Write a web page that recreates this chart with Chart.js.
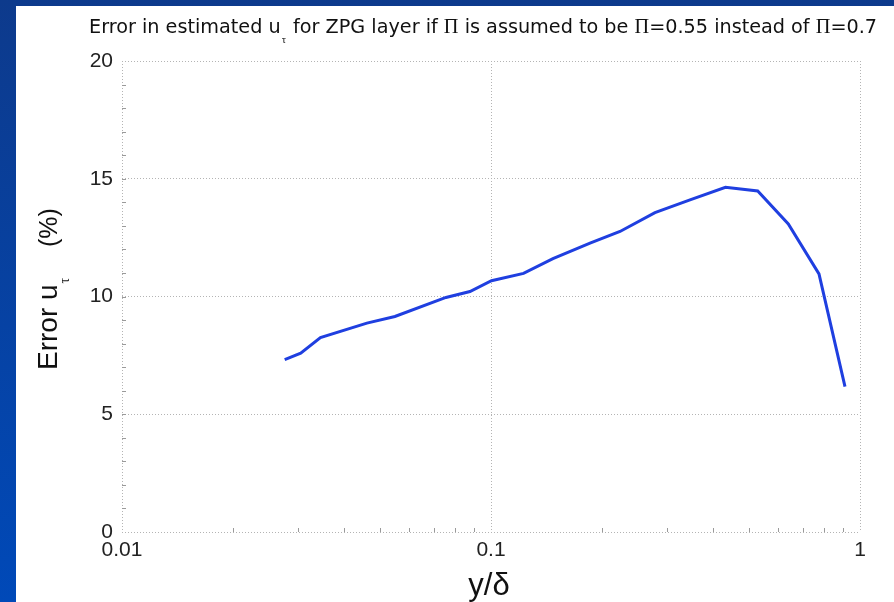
<!DOCTYPE html>
<html>
<head>
<meta charset="utf-8">
<title>Error in estimated u_tau</title>
<script src="https://cdn.jsdelivr.net/npm/chart.js@4.4.0/dist/chart.umd.min.js"></script>
<style>
  html, body { margin: 0; padding: 0; }
  body {
    width: 894px; height: 602px; overflow: hidden; position: relative;
    background: linear-gradient(to bottom, #0d3a8c, #0049b8);
  }
  #panel { position: absolute; left: 16px; top: 6px; width: 878px; height: 596px; background: #fff; }
</style>
</head>
<body>
<div id="panel"><canvas id="errChart" width="878" height="596"></canvas></div>
<script>
// y/delta positions and the matching error in u_tau (%)
const yOverDelta = [0.0276, 0.0305, 0.0345, 0.0461, 0.0549, 0.0755, 0.0877, 0.1003, 0.1225,
                    0.1472, 0.1855, 0.2237, 0.2782, 0.3462, 0.4319, 0.5282, 0.6393, 0.7742, 0.9106];
const errorUtau = [7.32, 7.59, 8.26, 8.87, 9.15, 9.96, 10.21, 10.67, 10.98,
                   11.61, 12.27, 12.76, 13.56, 14.10, 14.64, 14.48, 13.08, 10.96, 6.17];

const xTickValues = [0.01, 0.1, 1];
const xTickLabels = ['0.01', '0.1', '1'];
const yTickValues = [0, 5, 10, 15, 20];
const yMinorStep = 1;

const SANS = '"Liberation Sans", Arial, sans-serif';
const TITLE_SANS = '"DejaVu Sans", sans-serif';
const SERIF = '"Liberation Serif", "Times New Roman", serif';

// width of a run of text pieces at a given scale
function runWidth(ctx, parts, k) {
  let w = 0;
  parts.forEach(p => {
    ctx.font = (p.size * k) + 'px ' + p.font;
    w += ctx.measureText(p.text).width + (p.gap || 0);
  });
  return w;
}

// draws text pieces one after another, subscripts dropped below the baseline
function drawRun(ctx, parts, x, y, k) {
  let pos = x;
  k = k || 1;
  parts.forEach(p => {
    ctx.font = (p.size * k) + 'px ' + p.font;
    ctx.fillText(p.text, pos, y + (p.drop || 0));
    pos += ctx.measureText(p.text).width + (p.gap || 0);
  });
}

const labelsPlugin = {
  id: 'labels',
  afterDraw(chart) {
    const ctx = chart.ctx;
    const area = chart.chartArea;
    const xs = chart.scales.x, ys = chart.scales.y;
    ctx.save();

    // minor ticks inside the bottom and left axes
    ctx.strokeStyle = '#9a9a9a';
    ctx.lineWidth = 1;
    ctx.beginPath();
    for (let v = ys.min + yMinorStep; v < ys.max; v += yMinorStep) {
      const py = Math.round(ys.getPixelForValue(v)) + 0.5;
      ctx.moveTo(area.left, py);
      ctx.lineTo(area.left + 4, py);
    }
    for (let d = 0.01; d < 1; d *= 10) {
      for (let m = 2; m <= 9; m++) {
        const px = Math.round(xs.getPixelForValue(d * m)) + 0.5;
        ctx.moveTo(px, area.bottom);
        ctx.lineTo(px, area.bottom - 4);
      }
    }
    ctx.stroke();

    ctx.fillStyle = '#111';
    ctx.textAlign = 'left';
    ctx.textBaseline = 'alphabetic';

    // title, scaled so it runs from x=73 to x=862
    const title = [
      { text: 'Error in estimated u', font: TITLE_SANS, size: 18, gap: 1 },
      { text: '\u03c4', font: SERIF, size: 10, drop: 10, gap: 1 },
      { text: ' for ZPG layer if ', font: TITLE_SANS, size: 18 },
      { text: '\u03a0', font: SERIF, size: 19 },
      { text: ' is assumed to be ', font: TITLE_SANS, size: 18 },
      { text: '\u03a0', font: SERIF, size: 19 },
      { text: '=0.55 instead of ', font: TITLE_SANS, size: 18 },
      { text: '\u03a0', font: SERIF, size: 19 },
      { text: '=0.7', font: TITLE_SANS, size: 18 }
    ];
    const k = 789 / runWidth(ctx, title, 1);
    drawRun(ctx, title, 73, 27, k);

    // y axis title, reading upwards
    ctx.save();
    ctx.translate(41, 364);
    ctx.rotate(-Math.PI / 2);
    drawRun(ctx, [
      { text: 'Error u', font: SANS, size: 28, gap: 1 },
      { text: '\u03c4', font: SERIF, size: 14, drop: 12 }
    ], 0, 0);
    ctx.font = '25px ' + SANS;
    ctx.fillText('(%)', 123, 0);
    ctx.restore();

    // x axis title
    ctx.textAlign = 'center';
    ctx.font = '31px ' + SANS;
    ctx.fillText('y/\u03b4', (area.left + area.right) / 2 - 2, 589);
    ctx.restore();
  }
};

const gridStyle = { color: '#b4b4b4', lineWidth: 1, drawTicks: false };
const borderStyle = { display: false, dash: [1, 2] };

new Chart(document.getElementById('errChart'), {
  type: 'line',
  data: {
    datasets: [{
      data: yOverDelta.map((x, i) => ({ x: x, y: errorUtau[i] })),
      borderColor: '#1f3fe0',
      borderWidth: 3,
      pointRadius: 0,
      tension: 0,
      fill: false
    }]
  },
  options: {
    responsive: false,
    animation: false,
    events: [],
    layout: { padding: { top: 55, right: 34, left: 0, bottom: 0 } },
    plugins: { legend: { display: false }, tooltip: { enabled: false }, title: { display: false } },
    scales: {
      x: {
        type: 'logarithmic',
        min: 0.01,
        max: 1,
        grid: gridStyle,
        border: borderStyle,
        afterBuildTicks: s => { s.ticks = xTickValues.map(v => ({ value: v })); },
        afterFit: s => { s.height = 70; },
        ticks: {
          autoSkip: false,
          maxRotation: 0,
          padding: 6,
          color: '#222',
          font: { family: SANS, size: 21 },
          callback: (v) => xTickLabels[xTickValues.indexOf(v)]
        }
      },
      y: {
        min: 0,
        max: 20,
        grid: gridStyle,
        border: borderStyle,
        afterBuildTicks: s => { s.ticks = yTickValues.map(v => ({ value: v })); },
        afterFit: s => { s.width = 106; },
        ticks: {
          padding: 9,
          color: '#222',
          font: { family: SANS, size: 21 },
          callback: v => String(v)
        }
      }
    }
  },
  plugins: [labelsPlugin]
});
</script>
</body>
</html>
